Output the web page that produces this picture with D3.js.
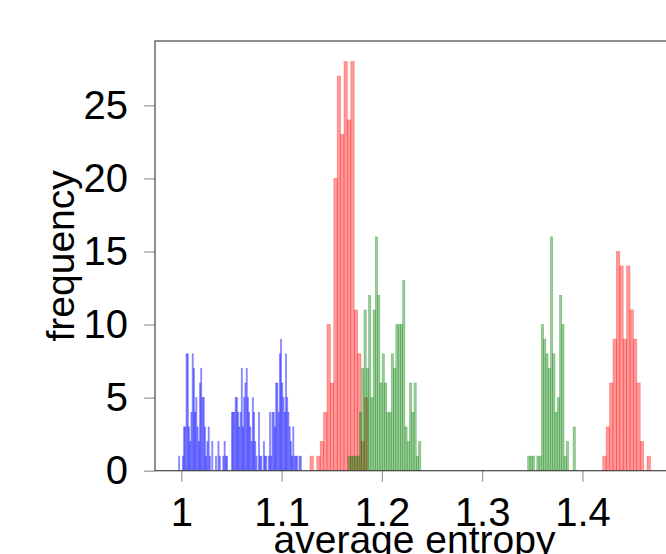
<!DOCTYPE html>
<html>
<head>
<meta charset="utf-8">
<script src="https://cdn.jsdelivr.net/npm/d3@7"></script>
<style>
html,body{margin:0;padding:0;background:#fff;}
svg{display:block;}
text{font-family:"Liberation Sans",Arial,sans-serif;fill:#000;}
</style>
</head>
<body>
<svg id="chart" width="666" height="554"></svg>
<script>
// ---- data (histogram counts, 100 bins per series) ----
const blueRange = [0.9973, 1.1197];
const blueCounts = [1,0,0,1,3,3,8,8,3,2, 4,8,7,4,5,3,2,6,7,5, 5,3,1,2,3,1,0,2,0,0, 1,0,2,1,0,0,1,2,1,1,
  0,0,0,4,4,4,5,5,4,3, 4,7,3,5,6,7,5,4,3,2, 5,4,2,1,0,4,1,1,0,2, 1,1,0,1,4,1,4,4,3,6,
  6,4,8,9,6,5,4,8,5,4, 3,2,1,3,1,1,1,0,1,1];
const redRange = [1.1283, 1.4678];
const redCounts = [1,0,1,2,4,10,6,20,27,23, 28,24,28,11,8,2,5,0,0,0,
  0,0,0,0,0,0,0,0,0,0, 0,0,0,0,0,0,0,0,0,0, 0,0,0,0,0,0,0,0,0,0, 0,0,0,0,0,0,0,0,0,0,
  0,0,0,0,0,0,0,0,0,0, 0,0,0,0,0,0,0,0,0,0, 0,0,0,0,0,0,1,3,6,9, 15,14,9,14,11,9,6,2,0,1];
const greenRange = [1.1663, 1.3930];
const greenCounts = [1,1,1,1,1,4,7,11,7,12, 5,11,16,12,6,8,6,4,4,8, 7,10,10,10,13,3,2,6,4,6,
  1,2,0,0,0,0,0,0,0,0, 0,0,0,0,0,0,0,0,0,0, 0,0,0,0,0,0,0,0,0,0, 0,0,0,0,0,0,0,0,0,0,
  0,0,0,0,0,0,0,0,0,1, 1,1,0,1,1,10,9,8,7,16, 8,4,5,12,10,1,2,0,0,3];
const xTicks = [1, 1.1, 1.2, 1.3, 1.4];
const xTickLabels = ["1", "1.1", "1.2", "1.3", "1.4"];
const yTicks = [0, 5, 10, 15, 20, 25];
const xLabel = "average entropy";
const yLabel = "frequency";

// ---- layout ----
const L = 155, T = 41, R = 674, B = 470.7;
const svg = d3.select("#chart");
const x = d3.scaleLinear().domain([0.9738, 1.4913]).range([L, R]);
const y = d3.scaleLinear().domain([0, 29.4]).range([B, T]);

const series = [
  {counts: blueCounts, range: blueRange, color: "#0000ff"},
  {counts: redCounts, range: redRange, color: "#ff0000"},
  {counts: greenCounts, range: greenRange, color: "#008000"}
];

const plot = svg.append("g");
series.forEach(s => {
  const n = s.counts.length;
  const w = (s.range[1] - s.range[0]) / n;
  const bins = s.counts.map((c, i) => ({x0: s.range[0] + i * w, x1: s.range[0] + (i + 1) * w, c}));
  plot.append("g").selectAll("rect").data(bins).join("rect")
    .attr("x", d => x(d.x0))
    .attr("width", d => x(d.x1) - x(d.x0))
    .attr("y", d => y(d.c))
    .attr("height", d => y(0) - y(d.c))
    .attr("fill", s.color).attr("fill-opacity", 0.4)
    .attr("stroke", s.color).attr("stroke-opacity", 0.4).attr("stroke-width", 0.6);
});

// axes
const xAxis = d3.axisBottom(x).tickValues(xTicks).tickFormat((d, i) => xTickLabels[i])
  .tickSizeInner(11).tickSizeOuter(0).tickPadding(16);
const gx = svg.append("g").attr("transform", `translate(0,${B})`).call(xAxis);
gx.select(".domain").remove();
gx.selectAll(".tick line").attr("stroke", "#999").attr("stroke-width", 1.2);
gx.selectAll(".tick text").attr("font-size", 40).attr("fill", "#000")
  .attr("font-family", '"Liberation Sans",Arial,sans-serif');

const yAxis = d3.axisLeft(y).tickValues(yTicks).tickSizeInner(11).tickSizeOuter(0).tickPadding(16);
const gy = svg.append("g").attr("transform", `translate(${L},0)`).call(yAxis);
gy.select(".domain").remove();
gy.selectAll(".tick line").attr("stroke", "#999").attr("stroke-width", 1.2);
gy.selectAll(".tick text").attr("font-size", 40).attr("fill", "#000")
  .attr("font-family", '"Liberation Sans",Arial,sans-serif');

// frame
svg.append("rect").attr("x", L).attr("y", T).attr("width", R - L).attr("height", B - T)
  .attr("fill", "none").attr("stroke", "#444").attr("stroke-width", 1.2);

// labels
svg.append("text").attr("x", (L + R) / 2).attr("y", 553).attr("text-anchor", "middle")
  .attr("font-size", 39).text(xLabel);
svg.append("text").attr("transform", `translate(74,${(T + B) / 2}) rotate(-90)`)
  .attr("text-anchor", "middle").attr("font-size", 39).text(yLabel);
</script>
</body>
</html>
